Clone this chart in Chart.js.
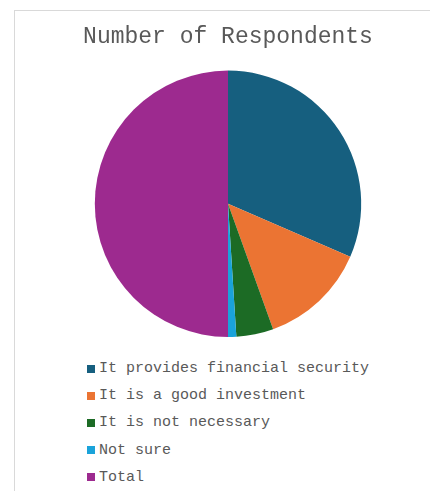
<!DOCTYPE html>
<html lang="en">
<head>
  <meta charset="UTF-8">
  <title>Number of Respondents</title>
  <script src="https://cdn.jsdelivr.net/npm/chart.js"></script>
  <style>
    html, body { margin: 0; padding: 0; background: #fff; overflow: hidden; }
    body { width: 430px; height: 491px; position: relative; }
    .frame {
      position: absolute; left: 14px; top: 10px; width: 440px; height: 500px;
      border-top: 1px solid #d9d9d9; border-left: 1px solid #d9d9d9;
    }
    .chart-box { position: absolute; left: 28px; top: 10px; width: 400px; height: 327px; }
    #legend {
      position: absolute; left: 87px; top: 355px; margin: 0; padding: 0; list-style: none;
      font-family: "Courier New", "Liberation Mono", monospace; font-size: 15px; color: #595959;
    }
    #legend li { display: flex; align-items: center; height: 27.2px; }
    #legend .box { width: 8px; height: 8px; margin-right: 4px; }
  </style>
</head>
<body>
  <div class="frame"></div>
  <div class="chart-box"><canvas id="pie"></canvas></div>
  <ul id="legend"></ul>

  <script>
    // Datos
    const labels = ['It provides financial security', 'It is a good investment', 'It is not necessary', 'Not sure', 'Total'];
    const respondents = [63, 26, 9, 2, 100];
    const colors = ['#165f7f', '#eb7433', '#1c6b25', '#1aa3da', '#9d2a8f'];

    const chart = new Chart(document.getElementById('pie'), {
      type: 'pie',
      data: {
        labels,
        datasets: [{ data: respondents, backgroundColor: colors, borderWidth: 0 }]
      },
      options: {
        responsive: true,
        maintainAspectRatio: false,
        animation: false,
        layout: { padding: 0 },
        plugins: {
          legend: { display: false },
          tooltip: { enabled: false },
          title: {
            display: true,
            text: 'Number of Respondents',
            color: '#595959',
            font: { family: '"Courier New", "Liberation Mono", monospace', size: 23, weight: 'normal' },
            padding: { top: 13, bottom: 20 }
          }
        }
      }
    });

    // Leyenda en HTML, una entrada por fila
    const legend = document.getElementById('legend');
    chart.data.labels.forEach((label, i) => {
      const li = document.createElement('li');
      li.innerHTML = `<span class="box" style="background:${colors[i]}"></span><span>${label}</span>`;
      legend.appendChild(li);
    });
  </script>
</body>
</html>
